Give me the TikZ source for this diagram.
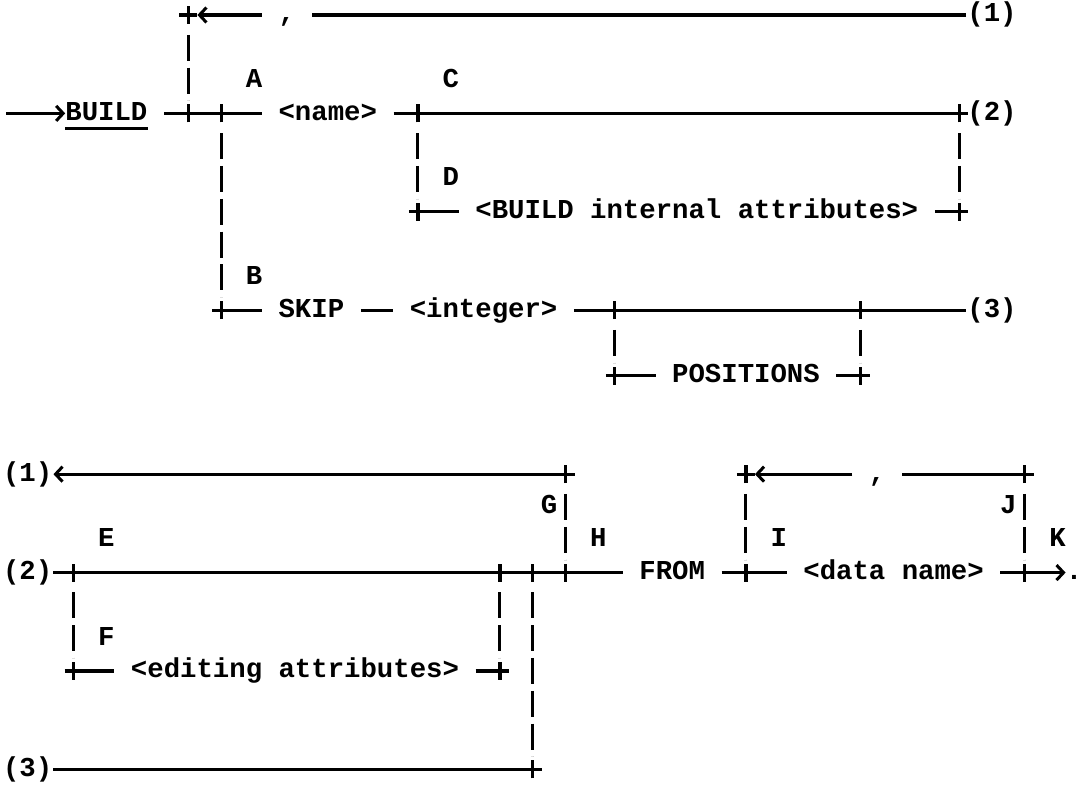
\documentclass[tikz,border=0pt]{standalone}
\usepackage{fontspec}
\setmonofont{Liberation Mono}
\usepackage{tikz}
\usetikzlibrary{arrows.meta}

\tikzset{
  rail/.style={line width=3.2pt},
  vrail/.style={line width=3pt, dash pattern=on 26pt off 6.8pt, dash phase=26pt,
    shorten <=13pt, shorten >=13pt},
  word/.style={font=\ttfamily\bfseries\fontsize{27.33}{32}\selectfont,
    inner xsep=16.4pt, inner ysep=0pt, text height=14pt, text depth=0pt},
  tag/.style={word, inner xsep=1pt},
  flow/.style={-{Straight Barb[length=7pt,width=15pt,line width=3pt]}},
  jplus/.pic={\draw[line width=3.2pt] (-9pt,0) -- (9pt,0) (0,-9pt) -- (0,9pt);}
}

\begin{document}
\begin{tikzpicture}[x=16.4pt, y=-32.8pt]
  \useasboundingbox (-0.488,-0.457) rectangle (65.55,23.567);
  % Upper part: BUILD head
  \coordinate (in) at (-0.1,3);
  \node[word] (build) at (6,3) {BUILD};
  \coordinate (t1) at (11,0);
  \coordinate (b1) at (11,3);
  \coordinate (b2) at (13,3);
  \node[word] (cm1) at (17,0) {,};
  \node[tag] (ref1) at (60,0) {(1)};
  \node[word] (name) at (19.5,3) {<name>};
  \coordinate (c1) at (25,3);
  \coordinate (c2) at (58,3);
  \node[tag] (ref2) at (60,3) {(2)};
  \coordinate (d1) at (25,6);
  \coordinate (d2) at (58,6);
  \node[word] (attr) at (42,6) {<BUILD internal attributes>};
  \coordinate (s1) at (13,9);
  \node[word] (skip) at (18.5,9) {SKIP};
  \node[word] (int) at (29,9) {<integer>};
  \coordinate (s2) at (37,9);
  \coordinate (s3) at (52,9);
  \node[tag] (ref3) at (60,9) {(3)};
  \coordinate (q1) at (37,11);
  \coordinate (q2) at (52,11);
  \node[word] (pos) at (45,11) {POSITIONS};
  \foreach \l/\c/\r in {A/15/2, C/27/2, D/27/5, B/15/8}
    \node[word] (lab\l) at (\c,\r) {\l};

  \draw[rail, flow] (in) -- ([xshift=16.4pt]build.west);
  \draw[rail] ([xshift=16.4pt,yshift=-8pt]build.base west) -- ([xshift=-16.4pt,yshift=-8pt]build.base east);
  \draw[rail] (build) -- (name);
  \draw[rail] (name) -- (ref2);
  \draw[rail] (ref1) -- (cm1);
  \draw[rail, flow, shorten >=9pt] (cm1) -- (t1);
  \draw[rail] (d1) -- (attr);
  \draw[rail] (attr) -- (d2);
  \draw[rail] (s1) -- (skip);
  \draw[rail] (skip) -- (int);
  \draw[rail] (int) -- (ref3);
  \draw[rail] (q1) -- (pos);
  \draw[rail] (pos) -- (q2);

  % Lower part: FROM tail
  \node[tag] (back1) at (1.2,14) {(1)};
  \coordinate (g1) at (34,14);
  \coordinate (i1) at (45,14);
  \coordinate (j1) at (62,14);
  \node[word] (cm2) at (53,14) {,};
  \node[tag] (back2) at (1.2,17) {(2)};
  \coordinate (e1) at (4,17);
  \coordinate (e2) at (30,17);
  \coordinate (e3) at (32,17);
  \coordinate (h1) at (34,17);
  \node[word] (from) at (40.5,17) {FROM};
  \coordinate (i2) at (45,17);
  \node[word] (data) at (54,17) {<data name>};
  \coordinate (j2) at (62,17);
  \node[tag, inner xsep=0pt] (stop) at (65,17) {.};
  \coordinate (f1) at (4,20);
  \coordinate (f2) at (30,20);
  \node[word] (edit) at (17.5,20) {<editing attributes>};
  \node[tag] (back3) at (1.2,23) {(3)};
  \coordinate (k1) at (32,23);
  \foreach \l/\c/\r in {G/33/15, J/61/15, E/6/16, H/36/16, I/47/16, K/64/16, F/6/19}
    \node[word] (lab\l) at (\c,\r) {\l};

  \draw[rail, flow] (g1) -- (back1);
  \draw[rail] (j1) -- (cm2);
  \draw[rail, flow, shorten >=9pt] (cm2) -- (i1);
  \draw[rail] (back2) -- (from);
  \draw[rail] (from) -- (data);
  \draw[rail, flow] (data) -- (stop);
  \draw[rail] (f1) -- (edit);
  \draw[rail] (edit) -- (f2);
  \draw[rail] (back3) -- (k1);

  % Verticals, always top to bottom
  \foreach \a/\b in {t1/b1, b2/s1, c1/d1, c2/d2, s2/q1, s3/q2,
                     g1/h1, i1/i2, j1/j2, e1/f1, e2/f2, e3/k1}
    \draw[vrail] (\a) -- (\b);
  % Junctions
  \foreach \j in {t1, b1, b2, c1, c2, d1, d2, s1, s2, s3, q1, q2,
                  g1, i1, j1, e1, e2, e3, h1, i2, j2, f1, f2, k1}
    \pic at (\j) {jplus};
\end{tikzpicture}
\end{document}
